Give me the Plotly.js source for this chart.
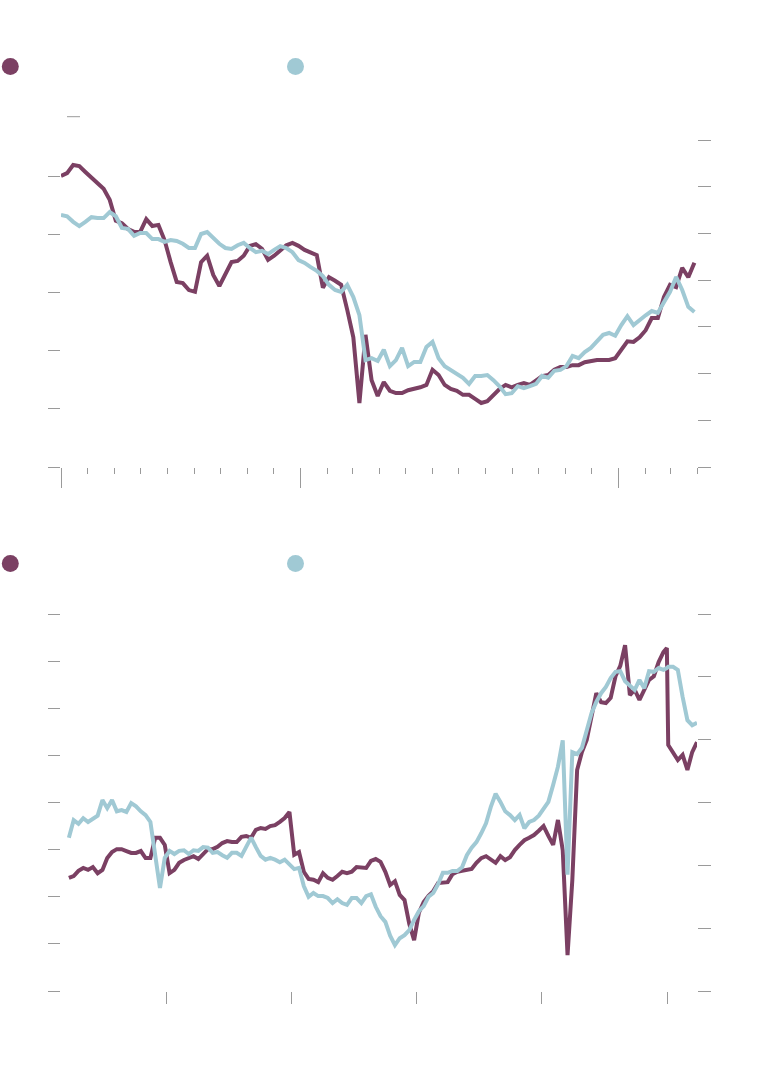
<!DOCTYPE html>
<html>
<head>
<meta charset="utf-8">
<script src="https://cdn.plot.ly/plotly-3.0.1.min.js"></script>
<style>html,body{margin:0;padding:0;background:#fff;}#chart{width:758px;height:1083px;}</style>
</head>
<body>
<div id="chart"></div>
<script>
// ---------- Top chart: weekly values ----------
const topDates = [
"2019-04-01","2019-04-08","2019-04-15","2019-04-22","2019-04-29","2019-05-06","2019-05-13","2019-05-20","2019-05-27",
"2019-06-03","2019-06-10","2019-06-17","2019-06-24","2019-07-01","2019-07-08","2019-07-15","2019-07-22","2019-07-29",
"2019-08-05","2019-08-12","2019-08-19","2019-08-26","2019-09-02","2019-09-09","2019-09-16","2019-09-23","2019-09-30",
"2019-10-07","2019-10-14","2019-10-21","2019-10-28","2019-11-04","2019-11-11","2019-11-18","2019-11-25",
"2019-12-02","2019-12-09","2019-12-16","2019-12-23","2019-12-30",
"2020-01-06","2020-01-13","2020-01-20","2020-01-27","2020-02-03","2020-02-10","2020-02-17","2020-02-24",
"2020-03-02","2020-03-09","2020-03-16","2020-03-23","2020-03-30","2020-04-06","2020-04-13","2020-04-20","2020-04-27",
"2020-05-04","2020-05-11","2020-05-18","2020-05-25","2020-06-01","2020-06-08","2020-06-15","2020-06-22","2020-06-29",
"2020-07-06","2020-07-13","2020-07-20","2020-07-27","2020-08-03","2020-08-10","2020-08-17","2020-08-24","2020-08-31",
"2020-09-07","2020-09-14","2020-09-21","2020-09-28","2020-10-05","2020-10-12","2020-10-19","2020-10-26",
"2020-11-02","2020-11-09","2020-11-16","2020-11-23","2020-11-30","2020-12-07","2020-12-14","2020-12-21","2020-12-28",
"2021-01-04","2021-01-11","2021-01-18","2021-01-25","2021-02-01","2021-02-08","2021-02-15","2021-02-22",
"2021-03-01","2021-03-08","2021-03-15","2021-03-22","2021-03-29"];

const topPurple = [
50.0,50.5,51.9,51.7,50.7,49.8,48.8,47.8,45.9,
42.3,41.9,40.9,40.4,40.4,42.6,41.4,41.6,39.0,
35.2,31.8,31.6,30.4,30.1,35.2,36.3,33.0,31.1,
33.0,35.2,35.4,36.3,38.0,38.3,37.5,35.6,
36.3,37.3,38.1,38.5,38.0,
37.3,36.8,36.4,30.8,32.6,32.0,31.3,27.0,
22.3,11.0,22.7,14.9,12.2,14.6,13.1,12.7,12.7,
13.2,13.4,13.7,14.1,16.7,15.8,14.1,13.4,13.1,
12.4,12.4,11.7,11.0,11.3,12.4,13.4,14.1,13.7,
14.1,14.4,14.1,14.9,15.6,15.8,16.7,17.2,
17.2,17.5,17.5,18.0,18.2,18.4,18.4,18.4,18.7,
20.3,21.6,21.5,22.3,23.5,25.6,25.6,29.2,
31.3,30.9,34.2,32.6,35.1];

const topBlue = [
54.0,53.7,52.5,51.6,52.5,53.5,53.3,53.3,54.6,
53.7,51.2,51.0,49.5,50.1,50.1,48.8,48.8,48.2,
48.6,48.4,47.8,46.9,46.9,49.9,50.3,49.0,47.8,
46.9,46.7,47.5,48.0,46.9,46.0,46.3,45.6,
46.5,47.3,46.9,46.0,44.3,
43.7,42.8,42.0,40.9,39.0,37.9,37.5,39.0,
36.4,32.5,22.9,23.3,22.7,25.1,21.6,22.9,25.5,
21.6,22.5,22.5,25.7,26.8,23.3,21.6,20.8,19.9,
19.1,17.8,19.5,19.5,19.7,18.6,17.3,15.6,15.8,
17.3,16.9,17.3,17.8,19.5,19.1,20.6,20.8,
21.6,23.8,23.3,24.6,25.5,27.0,28.3,28.7,28.1,
30.4,32.3,30.4,31.5,32.5,33.4,33.0,35.3,
37.5,40.7,37.9,34.3,33.2];

const topLeftTicks = [0,10,20,30,40,50];
const topRightTicks = [0,10,20,30,40,50,60,70];
const topMajorTicks = ["2019-04-01","2020-01-01","2021-01-01"];

// ---------- Bottom chart: fortnightly values ----------
const botDates = [
"2016-03-21","2016-04-04","2016-04-18","2016-05-02","2016-05-16","2016-05-30","2016-06-13","2016-06-27","2016-07-11","2016-07-25",
"2016-08-08","2016-08-22","2016-09-05","2016-09-19","2016-10-03","2016-10-17","2016-10-31","2016-11-14","2016-11-28","2016-12-12","2016-12-26",
"2017-01-09","2017-01-23","2017-02-06","2017-02-20","2017-03-06","2017-03-20","2017-04-03","2017-04-17","2017-05-01","2017-05-15",
"2017-05-29","2017-06-12","2017-06-26","2017-07-10","2017-07-24","2017-08-07","2017-08-21","2017-09-04","2017-09-18","2017-10-02",
"2017-10-16","2017-10-30","2017-11-13","2017-11-27","2017-12-11","2017-12-25",
"2018-01-08","2018-01-22","2018-02-05","2018-02-19","2018-03-05","2018-03-19","2018-04-02","2018-04-16","2018-04-30","2018-05-14",
"2018-05-28","2018-06-11","2018-06-25","2018-07-09","2018-07-23","2018-08-06","2018-08-20","2018-09-03","2018-09-17","2018-10-01",
"2018-10-15","2018-10-29","2018-11-12","2018-11-26","2018-12-10","2018-12-24",
"2019-01-07","2019-01-21","2019-02-04","2019-02-18","2019-03-04","2019-03-18","2019-04-01","2019-04-15","2019-04-29","2019-05-13",
"2019-05-27","2019-06-10","2019-06-24","2019-07-08","2019-07-22","2019-08-05","2019-08-19","2019-09-02","2019-09-16","2019-09-30",
"2019-10-14","2019-10-28","2019-11-11","2019-11-25","2019-12-09","2019-12-23",
"2020-01-06","2020-01-20","2020-02-03","2020-02-17","2020-03-02","2020-03-16","2020-03-30","2020-04-13","2020-04-27","2020-05-11",
"2020-05-25","2020-06-08","2020-06-22","2020-07-06","2020-07-20","2020-08-03","2020-08-17","2020-08-31","2020-09-14","2020-09-28",
"2020-10-12","2020-10-26","2020-11-09","2020-11-23","2020-12-07","2020-12-21","2020-12-31",
"2021-01-04","2021-01-18","2021-02-01","2021-02-15","2021-03-01","2021-03-15","2021-03-29"];

const botPurple = [
24.0,24.4,25.5,26.1,25.7,26.3,25.0,25.7,28.2,29.5,
30.1,30.1,29.7,29.3,29.3,29.7,28.2,28.2,32.5,32.5,31.0,
25.0,25.7,27.2,27.8,28.2,28.6,28.0,29.1,30.1,30.1,
30.6,31.4,31.8,31.6,31.6,32.7,32.9,32.5,34.2,34.6,
34.4,35.0,35.2,35.9,36.7,38.0,
28.9,29.5,25.3,23.8,23.6,23.1,25.0,24.0,23.6,24.4,
25.3,25.0,25.3,26.3,26.3,26.1,27.6,28.0,27.4,25.3,
22.5,23.3,20.4,19.3,14.2,10.8,
16.6,18.9,20.2,21.2,22.9,22.9,23.1,24.8,25.3,25.5,
25.7,25.9,27.2,28.2,28.6,27.8,27.2,28.6,27.8,28.4,
29.9,31.0,32.0,32.5,33.1,34.0,
35.0,32.9,31.0,36.3,29.9,7.6,23.6,46.9,50.7,53.3,
58.6,63.2,61.3,61.1,62.2,66.8,69.0,73.4,62.8,63.9,
61.8,63.9,66.0,66.8,69.8,71.9,72.8,
52.2,50.7,49.0,50.1,46.9,50.7,52.8];

const botBlue = [
24.4,27.2,26.6,27.5,26.9,27.5,27.9,30.4,29.1,30.4,
28.6,28.8,28.5,29.9,29.4,28.6,28.0,26.9,22.1,16.4,21.2,
22.3,21.8,22.3,22.4,21.8,22.4,22.3,22.9,22.8,22.0,
22.1,21.6,21.2,22.0,22.0,21.5,22.8,24.4,22.9,21.5,
20.9,21.2,20.9,20.5,20.9,20.1,
19.4,19.6,16.7,15.0,15.6,15.1,15.1,14.8,14.0,14.6,
14.0,13.7,14.8,14.8,14.0,15.1,15.4,13.4,11.9,11.0,
8.8,7.3,8.4,8.9,9.7,11.3,
12.7,13.5,15.0,15.6,17.0,18.8,18.8,19.1,19.1,19.7,
21.6,22.8,23.7,25.1,26.7,29.3,31.4,30.1,28.6,28.0,
27.2,28.0,25.9,26.9,27.2,27.9,
29.0,30.1,32.8,35.7,39.9,18.5,38.0,37.7,38.7,41.5,
44.2,46.0,47.4,48.4,49.8,50.8,50.9,49.3,48.7,47.9,
49.5,48.2,50.9,50.8,51.4,51.1,51.4,
51.6,51.6,51.1,46.8,43.1,42.3,42.7];

const botLeftTicks = [0,10,20,30,40,50,60,70,80];
const botRightTicks = [0,10,20,30,40,50,60];
const botMajorTicks = ["2017-01-01","2018-01-01","2019-01-01","2020-01-01","2021-01-01"];

// ---------- styles ----------
const PURPLE = "#7b4063";
const BLUE = "#a0c9d4";
const TICK = "#9a9a9a";

const traces = [
  {x: topDates, y: topPurple, xaxis: "x", yaxis: "y", type: "scatter", mode: "lines",
   line: {color: PURPLE, width: 4}, hoverinfo: "skip"},
  {x: topDates, y: topBlue, xaxis: "x", yaxis: "y2", type: "scatter", mode: "lines",
   line: {color: BLUE, width: 4}, hoverinfo: "skip"},
  {x: botDates, y: botBlue, xaxis: "x2", yaxis: "y4", type: "scatter", mode: "lines",
   line: {color: BLUE, width: 4}, hoverinfo: "skip"},
  {x: botDates, y: botPurple, xaxis: "x2", yaxis: "y3", type: "scatter", mode: "lines",
   line: {color: PURPLE, width: 4}, hoverinfo: "skip"}
];

const H = 1083, L = 61, R = 61, W = 758;
const pw = W - L - R;
const px2x = p => (p - L) / pw;
const py2y = p => (H - p) / H;

function yAx(domain, range, ticks, side, len, overlay) {
  const a = {domain: domain, range: range, tickmode: "array", tickvals: ticks,
    ticks: "outside", ticklen: len, tickcolor: TICK, tickwidth: 1,
    showticklabels: false, showgrid: false, zeroline: false, showline: false,
    side: side, fixedrange: true};
  if (overlay) a.overlaying = overlay;
  return a;
}

const topDom = [py2y(467), py2y(117)];
const botDom = [py2y(991), py2y(614)];

const layout = {
  width: W, height: H,
  margin: {l: L, r: R, t: 0, b: 0, pad: 0},
  paper_bgcolor: "#ffffff", plot_bgcolor: "#ffffff",
  showlegend: false,
  font: {family: "Roboto, sans-serif", size: 12, color: "#333"},
  xaxis: {domain: [0, 1], anchor: "y", type: "date",
    range: ["2019-04-01", "2021-04-01"],
    tickmode: "array", tickvals: topMajorTicks,
    ticks: "outside", ticklen: 20, tickcolor: TICK, tickwidth: 1,
    minor: {tickmode: "linear", tick0: "2019-04-01", dtick: "M1", ticks: "outside",
            ticklen: 6, tickcolor: TICK, tickwidth: 1, showgrid: false},
    showticklabels: false, showgrid: false, zeroline: false, showline: false, fixedrange: true},
  yaxis: yAx(topDom, [0, 60.14], topLeftTicks, "left", 12),
  yaxis2: yAx(topDom, [0, 74.95], topRightTicks, "right", 13, "y"),
  xaxis2: {domain: [0, 1], anchor: "y3", type: "date",
    range: ["2016-02-27", "2021-03-29"],
    tickmode: "array", tickvals: botMajorTicks,
    ticks: "outside", ticklen: 12, tickcolor: TICK, tickwidth: 1,
    showticklabels: false, showgrid: false, zeroline: false, showline: false, fixedrange: true},
  yaxis3: yAx(botDom, [0, 80], botLeftTicks, "left", 12),
  yaxis4: yAx(botDom, [0, 60], botRightTicks, "right", 13, "y3"),
  shapes: [
    {type: "circle", xref: "paper", yref: "paper", xsizemode: "pixel", ysizemode: "pixel",
     xanchor: px2x(10.3), yanchor: py2y(66.5), x0: -8.5, x1: 8.5, y0: -8.5, y1: 8.5,
     fillcolor: PURPLE, line: {width: 0}},
    {type: "circle", xref: "paper", yref: "paper", xsizemode: "pixel", ysizemode: "pixel",
     xanchor: px2x(295.5), yanchor: py2y(66.5), x0: -8.5, x1: 8.5, y0: -8.5, y1: 8.5,
     fillcolor: BLUE, line: {width: 0}},
    {type: "circle", xref: "paper", yref: "paper", xsizemode: "pixel", ysizemode: "pixel",
     xanchor: px2x(10.3), yanchor: py2y(563.5), x0: -8.5, x1: 8.5, y0: -8.5, y1: 8.5,
     fillcolor: PURPLE, line: {width: 0}},
    {type: "circle", xref: "paper", yref: "paper", xsizemode: "pixel", ysizemode: "pixel",
     xanchor: px2x(295.5), yanchor: py2y(563.5), x0: -8.5, x1: 8.5, y0: -8.5, y1: 8.5,
     fillcolor: BLUE, line: {width: 0}},
    {type: "line", xref: "paper", yref: "paper",
     x0: px2x(67), x1: px2x(80), y0: py2y(116.7), y1: py2y(116.7),
     line: {color: TICK, width: 1}}
  ]
};

Plotly.newPlot("chart", traces, layout, {displayModeBar: false, staticPlot: true});
</script>
</body>
</html>
